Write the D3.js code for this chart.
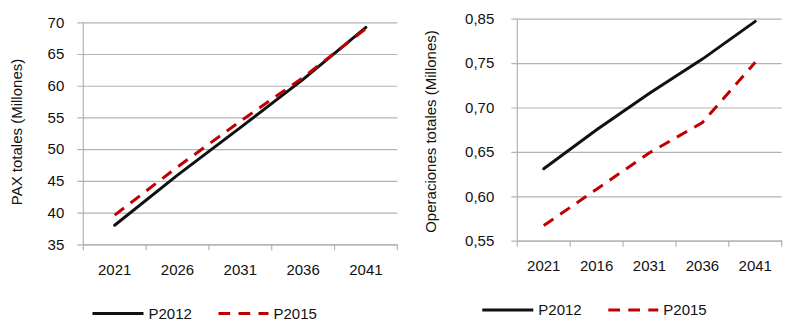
<!DOCTYPE html>
<html>
<head>
<meta charset="utf-8">
<script src="https://cdn.jsdelivr.net/npm/d3@7"></script>
<style>
html,body{margin:0;padding:0;background:#fff;}
svg{display:block;font-family:"Liberation Sans",Arial,sans-serif;}
</style>
</head>
<body>
<svg id="chart" width="800" height="334"></svg>
<script>
// ---- data ----
const leftCategories = ["2021","2026","2031","2036","2041"];
const leftP2012 = [38.0, 45.9, 53.4, 61.0, 69.2];
const leftP2015 = [39.6, 47.2, 54.4, 61.3, 69.0];
const leftYTicks = [35,40,45,50,55,60,65,70];
const leftYTitle = "PAX totales (Millones)";

const rightCategories = ["2021","2016","2031","2036","2041"];
const rightP2012 = [0.631, 0.675, 0.716, 0.759, 0.844];
const rightP2015 = [0.567, 0.608, 0.649, 0.683, 0.752];
const rightYTicks = [0.55,0.60,0.65,0.70,0.75,0.85];
const rightYTickLabels = ["0,55","0,60","0,65","0,70","0,75","0,85"];
const rightYTitle = "Operaciones totales (Millones)";

const seriesNames = ["P2012","P2015"];

// ---- styles ----
const BLACK = "#111111", RED = "#c00000", GRID = "#b3b3b3";
const FONT = 15;

const svg = d3.select("#chart");

function drawPanel(cfg){
  const g = svg.append("g");
  const x = d3.scaleBand().domain(cfg.categories).range([cfg.x0, cfg.x1]).padding(0);
  const y = cfg.y;
  // gridlines + y tick labels
  g.append("g").attr("transform", `translate(${cfg.x0},0)`)
    .call(d3.axisLeft(y).tickValues(cfg.yTicks).tickFormat((d,i)=>cfg.yLabels[i])
      .tickSize(-(cfg.x1-cfg.x0)).tickPadding(cfg.labelGap))
    .call(a=>a.select(".domain").remove())
    .call(a=>a.selectAll(".tick line").attr("x1",-6).attr("stroke",GRID).attr("stroke-width",1.2))
    .call(a=>a.selectAll(".tick text").attr("font-size",FONT).attr("fill","#111")
      .attr("font-family","'Liberation Sans',Arial,sans-serif"));
  // vertical axis line
  g.append("line").attr("x1",cfg.x0).attr("x2",cfg.x0)
    .attr("y1",y.range()[0]).attr("y2",y.range()[y.range().length-1])
    .attr("stroke",GRID).attr("stroke-width",1.2);
  // x axis with labels at band centers
  const yb = y.range()[0];
  g.append("g").attr("transform",`translate(0,${yb})`)
    .call(d3.axisBottom(x).tickSize(0).tickPadding(cfg.xLabelPad))
    .call(a=>a.select(".domain").attr("stroke",GRID).attr("stroke-width",1.2))
    .call(a=>a.selectAll(".tick text").attr("font-size",FONT).attr("fill","#111")
      .attr("font-family","'Liberation Sans',Arial,sans-serif"));
  // boundary tick marks
  const bounds = cfg.categories.map(c=>x(c)).concat([x.range()[1]]);
  g.selectAll(".btick").data(bounds).enter().append("line")
    .attr("x1",d=>d).attr("x2",d=>d).attr("y1",yb).attr("y2",yb+6)
    .attr("stroke",GRID).attr("stroke-width",1.2);
  // y title
  g.append("text").attr("transform",`translate(${cfg.titleX},${cfg.titleY}) rotate(-90)`)
    .attr("text-anchor","middle").attr("dominant-baseline","middle")
    .attr("font-size",FONT).attr("fill","#111").text(cfg.title);
  // lines
  const line = d3.line().x((d,i)=>x(cfg.categories[i])+x.bandwidth()/2).y(d=>y(d));
  g.append("path").datum(cfg.s1).attr("d",line).attr("fill","none")
    .attr("stroke",BLACK).attr("stroke-width",3).attr("stroke-linecap","round");
  g.append("path").datum(cfg.s2).attr("d",line).attr("fill","none")
    .attr("stroke",RED).attr("stroke-width",3).attr("stroke-dasharray","11.7,8.3");
  // legend
  const ly = cfg.legendY;
  g.append("line").attr("x1",cfg.legX).attr("x2",cfg.legX+51).attr("y1",ly).attr("y2",ly)
    .attr("stroke",BLACK).attr("stroke-width",3);
  g.append("text").attr("x",cfg.legX+56).attr("y",ly).attr("dy","0.36em")
    .attr("font-size",FONT).attr("fill","#111").text(seriesNames[0]);
  g.append("line").attr("x1",cfg.legX+126).attr("x2",cfg.legX+176).attr("y1",ly).attr("y2",ly)
    .attr("stroke",RED).attr("stroke-width",3).attr("stroke-dasharray","11.7,8.3");
  g.append("text").attr("x",cfg.legX+181).attr("y",ly).attr("dy","0.36em")
    .attr("font-size",FONT).attr("fill","#111").text(seriesNames[1]);
}

const yLeft = d3.scaleLinear().domain([35,70]).range([244.3,22.3]);
drawPanel({
  categories:leftCategories, x0:83.3, x1:397.3, y:yLeft,
  yTicks:leftYTicks, yLabels:leftYTicks.map(String), labelGap:19,
  xLabelPad:20, title:leftYTitle, titleX:18.5, titleY:132,
  s1:leftP2012, s2:leftP2015, legX:92.5, legendY:313.5
});

const yRight = d3.scaleLinear().domain(rightYTicks)
  .range(rightYTicks.map((d,i)=>240.7 - i*44.4));
drawPanel({
  categories:rightCategories, x0:517.3, x1:781.7, y:yRight,
  yTicks:rightYTicks, yLabels:rightYTickLabels, labelGap:23,
  xLabelPad:20, title:rightYTitle, titleX:432, titleY:131.5,
  s1:rightP2012, s2:rightP2015, legX:482.3, legendY:310
});
</script>
</body>
</html>
